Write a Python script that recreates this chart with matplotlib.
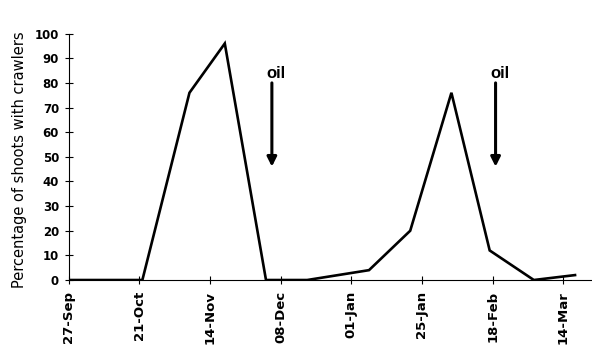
import numpy as np
import matplotlib
matplotlib.use('Agg')
import matplotlib.pyplot as plt
import matplotlib.dates as mdates
import datetime as dt

plt.rcParams['font.family'] = ['DejaVu Sans']

# sampling dates and % of shoots with crawlers
dates = ['2002-09-27', '2002-10-22', '2002-11-07', '2002-11-19', '2002-12-03',
         '2002-12-17', '2003-01-07', '2003-01-21', '2003-02-04', '2003-02-17',
         '2003-03-04', '2003-03-18']
crawlers = [0, 0, 76, 96, 0, 0, 4, 20, 76, 12, 0, 2]

tick_dates = ['2002-09-27', '2002-10-21', '2002-11-14', '2002-12-08',
              '2003-01-01', '2003-01-25', '2003-02-18', '2003-03-14']
oil_dates = ['2002-12-05', '2003-02-19']

d = [dt.datetime.strptime(s, '%Y-%m-%d') for s in dates]
td = [dt.datetime.strptime(s, '%Y-%m-%d') for s in tick_dates]
od = [dt.datetime.strptime(s, '%Y-%m-%d') for s in oil_dates]

fig = plt.figure(figsize=(5.92, 3.54), dpi=100)
ax = fig.add_axes([0.1162, 0.209, 0.882, 0.696])

ax.plot(d, crawlers, color='black', lw=1.9, solid_joinstyle='miter')

for o in od:
    ax.annotate('', xy=(o, 46), xytext=(o, 80),
                arrowprops=dict(arrowstyle='-|>', color='black', lw=2.2,
                                mutation_scale=14, shrinkA=0, shrinkB=0))
    ax.text(o + dt.timedelta(days=1.5), 84, 'oil', ha='center', va='center',
            fontsize=12, fontweight='bold', family='Liberation Sans')

ax.set_xlim(td[0], td[0] + dt.timedelta(days=177.4))
ax.set_ylim(0, 100)
ax.set_xticks(td)
ax.xaxis.set_major_formatter(mdates.DateFormatter('%d-%b'))
ax.set_yticks(np.arange(0, 101, 10))

for lab in ax.get_xticklabels():
    lab.set_rotation(90)
    lab.set_fontweight('bold')
    lab.set_fontsize(9.5)
for lab in ax.get_yticklabels():
    lab.set_fontweight('bold')
    lab.set_fontsize(8.5)

ax.tick_params(axis='both', direction='inout', length=6, width=0.8)
ax.tick_params(axis='x', pad=5)
ax.tick_params(axis='y', pad=4)
ax.spines['top'].set_visible(False)
ax.spines['right'].set_visible(False)
ax.spines['left'].set_linewidth(0.8)
ax.spines['bottom'].set_linewidth(0.8)

ax.set_ylabel('Percentage of shoots with crawlers', fontsize=10.5)
ax.yaxis.set_label_coords(-0.08, 0.49)

fig.savefig('out.png', dpi=100)
